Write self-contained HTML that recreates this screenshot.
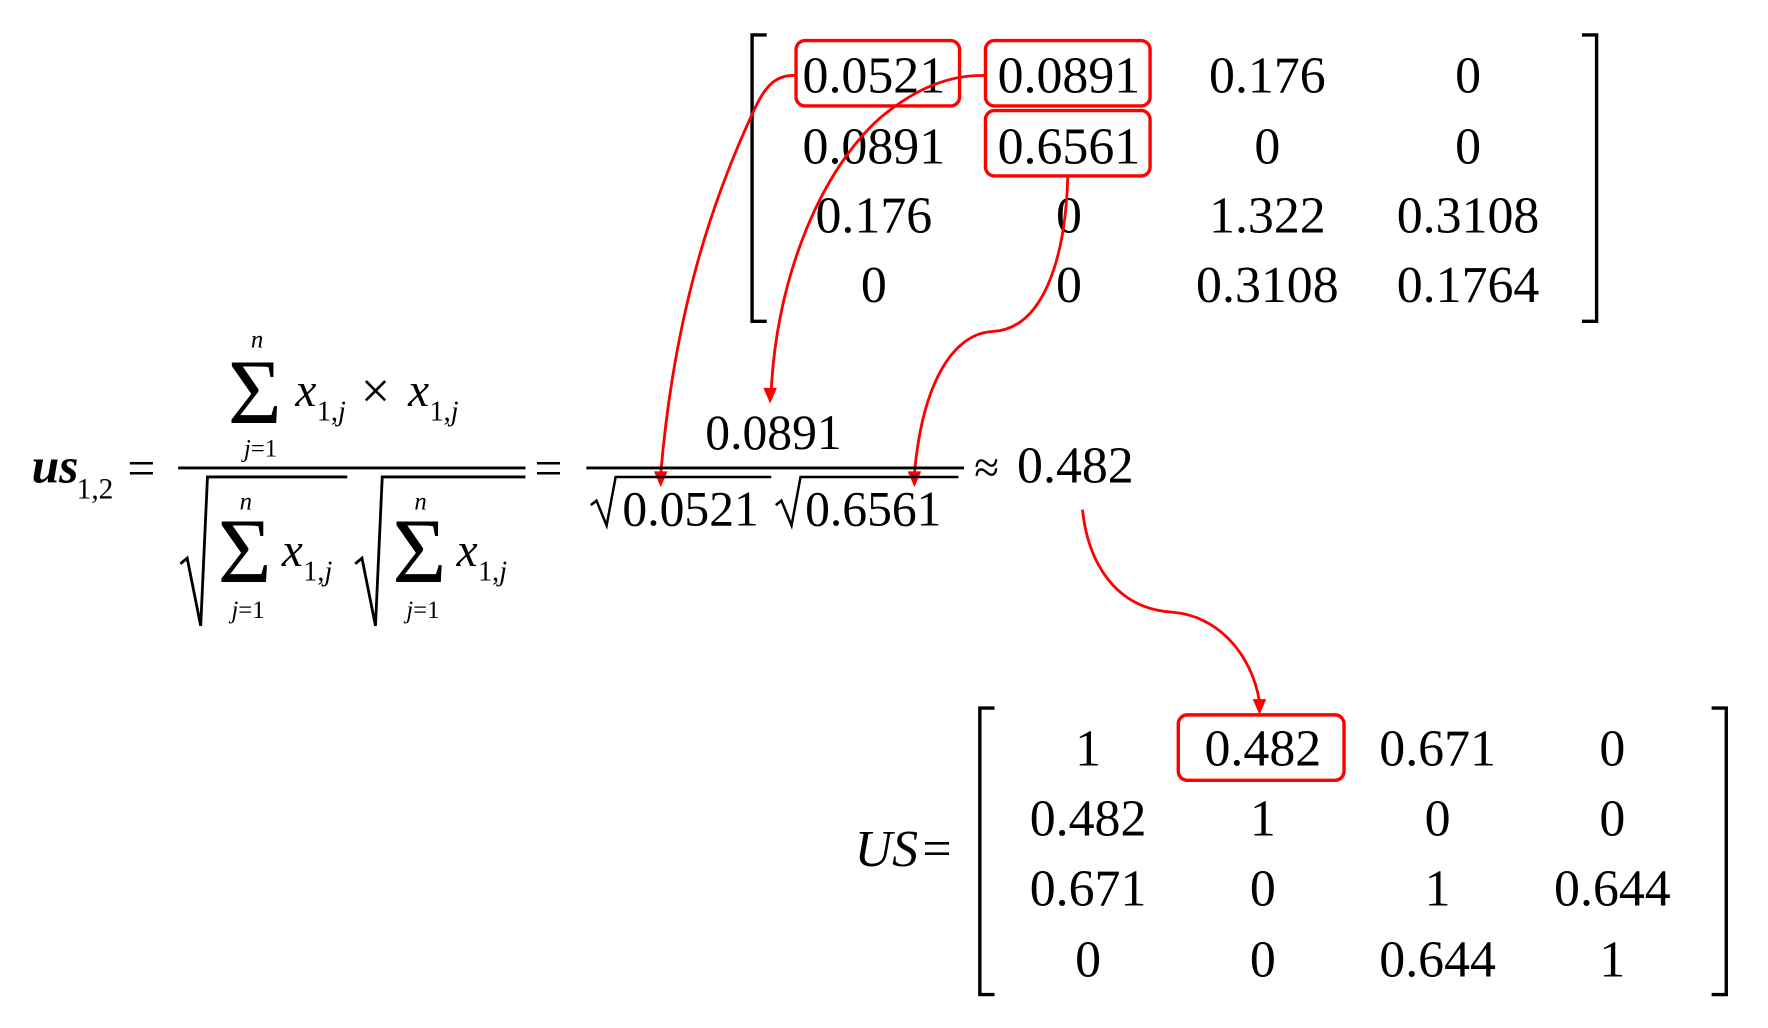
<!DOCTYPE html>
<html><head><meta charset="utf-8"><style>
html,body{margin:0;padding:0;background:#fff;}
svg{display:block;}
text{font-family:"Liberation Serif",serif;fill:#000;}
</style></head><body>
<svg width="1768" height="1028" viewBox="0 0 1568 911.7" xmlns="http://www.w3.org/2000/svg">
<rect width="1568" height="912" fill="#fff"/>
<!-- top matrix brackets -->
<path d="M680,31 H667 V285 H680" fill="none" stroke="#000" stroke-width="3"/>
<path d="M1403,31 H1416 V285 H1403" fill="none" stroke="#000" stroke-width="3"/>
<g font-size="46" text-anchor="middle">
<text x="775" y="82">0.0521</text><text x="948" y="82">0.0891</text><text x="1124" y="82">0.176</text><text x="1302" y="82">0</text>
<text x="775" y="145">0.0891</text><text x="948" y="145">0.6561</text><text x="1124" y="145">0</text><text x="1302" y="145">0</text>
<text x="775" y="206">0.176</text><text x="948" y="206">0</text><text x="1124" y="206">1.322</text><text x="1302" y="206">0.3108</text>
<text x="775" y="268">0</text><text x="948" y="268">0</text><text x="1124" y="268">0.3108</text><text x="1302" y="268">0.1764</text>
</g>
<g fill="none" stroke="#f00" stroke-width="3">
<rect x="706" y="36" width="145" height="58" rx="8"/>
<rect x="874" y="36" width="146" height="58" rx="8"/>
<rect x="874" y="98" width="146" height="58" rx="8"/>
<rect x="1045" y="634" width="147" height="58" rx="8"/>
</g>
<!-- arrows -->
<g fill="none" stroke="#f00" stroke-width="2.5">
<path d="M706,67 C690,66 680,74 670,95 C630,180 598,280 586,420"/>
<path d="M874,67 C840,66 810,80 780,105 C730,150 690,240 684,345"/>
<path d="M947,156 C945,230 925,292 880,294 C845,296 818,340 811,420"/>
<path d="M960,452 C965,500 990,540 1040,543 C1080,546 1110,580 1117,622"/>
</g>
<g fill="#f00">
<polygon points="580,418 592,418 586,432"/>
<polygon points="677,344 689,344 683,358"/>
<polygon points="805,418 817,418 811,432"/>
<polygon points="1111,620 1123,620 1117,634"/>
</g>
<!-- formula left -->
<text x="28" y="428" font-size="44" font-style="italic" font-weight="bold">us</text>
<text x="68" y="442" font-size="26">1,2</text>
<text x="113" y="430" font-size="44">=</text>
<line x1="158" y1="415" x2="466" y2="415" stroke="#000" stroke-width="2.5"/>
<!-- numerator -->
<text x="228" y="308" font-size="22" font-style="italic" text-anchor="middle">n</text>
<text x="226" y="375" font-size="82" text-anchor="middle">Σ</text>
<text x="231" y="405" font-size="22" text-anchor="middle"><tspan font-style="italic">j</tspan>=1</text>
<text x="262" y="360" font-size="42" font-style="italic">x</text>
<text x="281" y="373" font-size="25">1,<tspan font-style="italic">j</tspan></text>
<text x="320" y="362" font-size="46">×</text>
<text x="362" y="360" font-size="42" font-style="italic">x</text>
<text x="381" y="373" font-size="25">1,<tspan font-style="italic">j</tspan></text>
<!-- denominator -->
<path d="M160,500 L166,495 L178,555 L184,423 H308" fill="none" stroke="#000" stroke-width="2.5"/>
<text x="218" y="452" font-size="22" font-style="italic" text-anchor="middle">n</text>
<text x="217" y="516" font-size="82" text-anchor="middle">Σ</text>
<text x="220" y="548" font-size="22" text-anchor="middle"><tspan font-style="italic">j</tspan>=1</text>
<text x="250" y="502" font-size="42" font-style="italic">x</text>
<text x="269" y="515" font-size="25">1,<tspan font-style="italic">j</tspan></text>
<path d="M315,500 L321,495 L333,555 L339,423 H466" fill="none" stroke="#000" stroke-width="2.5"/>
<text x="373" y="452" font-size="22" font-style="italic" text-anchor="middle">n</text>
<text x="372" y="516" font-size="82" text-anchor="middle">Σ</text>
<text x="375" y="548" font-size="22" text-anchor="middle"><tspan font-style="italic">j</tspan>=1</text>
<text x="405" y="502" font-size="42" font-style="italic">x</text>
<text x="424" y="515" font-size="25">1,<tspan font-style="italic">j</tspan></text>
<text x="474" y="430" font-size="44">=</text>
<!-- second fraction -->
<line x1="520" y1="415" x2="855" y2="415" stroke="#000" stroke-width="2.5"/>
<text x="686" y="398" font-size="44" text-anchor="middle">0.0891</text>
<path d="M524,448 L529,444 L538,466 L546,423 H684" fill="none" stroke="#000" stroke-width="2.2"/>
<text x="552" y="466" font-size="44">0.0521</text>
<path d="M688,448 L693,444 L702,466 L710,423 H850" fill="none" stroke="#000" stroke-width="2.2"/>
<text x="714" y="466" font-size="44">0.6561</text>
<text x="864" y="428" font-size="40">≈</text>
<text x="902" y="428" font-size="46">0.482</text>
<!-- bottom matrix -->
<text x="758" y="768" font-size="46" font-style="italic">US</text>
<text x="818" y="768" font-size="46">=</text>
<path d="M882,628 H869 V882 H882" fill="none" stroke="#000" stroke-width="3"/>
<path d="M1518,628 H1531 V882 H1518" fill="none" stroke="#000" stroke-width="3"/>
<g font-size="46" text-anchor="middle">
<text x="965" y="679">1</text><text x="1120" y="679">0.482</text><text x="1275" y="679">0.671</text><text x="1430" y="679">0</text>
<text x="965" y="741">0.482</text><text x="1120" y="741">1</text><text x="1275" y="741">0</text><text x="1430" y="741">0</text>
<text x="965" y="803">0.671</text><text x="1120" y="803">0</text><text x="1275" y="803">1</text><text x="1430" y="803">0.644</text>
<text x="965" y="866">0</text><text x="1120" y="866">0</text><text x="1275" y="866">0.644</text><text x="1430" y="866">1</text>
</g>
</svg>
</body></html>
